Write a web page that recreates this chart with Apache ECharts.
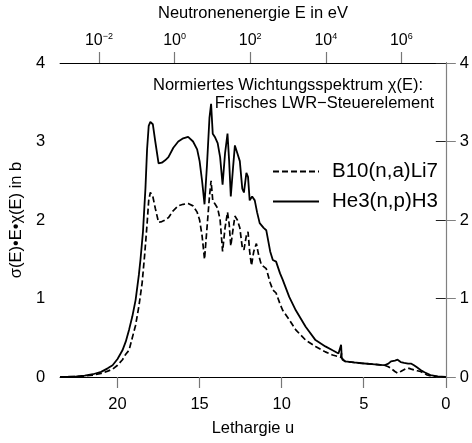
<!DOCTYPE html>
<html><head><meta charset="utf-8">
<script src="https://cdn.jsdelivr.net/npm/echarts@6/dist/echarts.min.js"></script>
<style>html,body{margin:0;padding:0;background:#fff}#c{width:472px;height:443px}</style>
</head><body><div id="c"></div>
<script>
// Lethargy grid and values, He3(n,p)H3 (solid)
const uHe3 = [23.5,23,22.5,22,21.5,21,20.6,20.3,20,19.7,19.5,19.3,19.1,18.9,18.7,18.6,18.45,18.3,18.2,18.1,18.0,17.85,17.7,17.5,17.3,17.1,16.9,16.6,16.3,16.0,15.7,15.4,15.15,15.0,14.85,14.7,14.55,14.4,14.3,14.2,14.05,13.9,13.75,13.6,13.45,13.3,13.2,13.1,12.95,12.85,12.7,12.55,12.4,12.3,12.15,12.05,11.95,11.8,11.64,11.5,11.34,11.1,10.94,10.7,10.54,10.34,10.1,9.94,9.54,9.14,8.54,7.94,7.34,6.9,6.54,6.42,6.38,6.34,6.14,5.6,5.14,4.5,4.0,3.74,3.5,3.34,3.1,2.94,2.75,2.54,2.3,2.1,1.94,1.74,1.54,1.3,0.94,0.5,0];
const he3 = [0,0.003,0.008,0.018,0.035,0.065,0.11,0.15,0.23,0.34,0.45,0.6,0.77,0.98,1.3,1.5,1.85,2.4,2.9,3.2,3.25,3.22,3.0,2.72,2.73,2.76,2.8,2.92,3.0,3.04,3.06,3.0,2.9,2.75,2.5,2.2,2.7,3.3,3.48,3.1,3.05,2.98,2.8,2.45,2.85,3.1,2.75,2.3,2.7,2.95,2.85,2.75,2.4,2.35,2.6,2.55,2.25,2.3,2.25,2.1,1.96,1.9,1.87,1.6,1.49,1.47,1.32,1.24,1.02,0.85,0.64,0.47,0.39,0.34,0.30,0.28,0.41,0.24,0.2,0.185,0.175,0.165,0.155,0.15,0.17,0.2,0.21,0.22,0.19,0.18,0.17,0.17,0.15,0.12,0.09,0.06,0.025,0.008,0];
// B10(n,a)Li7 (dashed)
const uB10 = [23.5,23,22.5,22,21.5,21,20.6,20.3,20,19.7,19.5,19.3,19.1,18.9,18.7,18.5,18.35,18.2,18.1,18.0,17.85,17.7,17.5,17.3,17.1,16.9,16.6,16.3,16.0,15.7,15.4,15.15,15.0,14.85,14.7,14.55,14.4,14.3,14.2,14.05,13.9,13.75,13.6,13.45,13.3,13.2,13.1,12.95,12.85,12.7,12.55,12.4,12.3,12.15,12.05,11.95,11.84,11.7,11.54,11.4,11.24,10.94,10.7,10.54,10.34,10.1,9.94,9.54,9.14,8.54,7.94,7.34,6.9,6.54,6.4,6.36,6.3,6.14,5.6,5.14,4.5,4.0,3.74,3.5,3.34,3.1,2.94,2.75,2.64,2.4,2.24,2.1,1.94,1.74,1.54,1.3,1.14,0.8,0.5,0];
const b10 = [0,0.002,0.005,0.012,0.025,0.045,0.075,0.1,0.15,0.22,0.29,0.34,0.5,0.66,0.9,1.2,1.55,1.95,2.25,2.35,2.3,2.15,1.97,1.98,2.0,2.03,2.12,2.18,2.2,2.21,2.18,2.1,2.0,1.8,1.5,1.9,2.3,2.5,2.25,2.2,2.15,2.0,1.6,1.9,2.1,1.95,1.67,1.9,2.05,2.0,1.9,1.65,1.62,1.8,1.85,1.6,1.42,1.6,1.70,1.55,1.43,1.38,1.2,1.11,1.07,0.93,0.85,0.73,0.60,0.47,0.39,0.32,0.28,0.26,0.25,0.3,0.22,0.2,0.185,0.175,0.165,0.155,0.15,0.13,0.11,0.07,0.05,0.07,0.09,0.11,0.11,0.1,0.09,0.08,0.07,0.045,0.025,0.01,0.004,0];

const seriesNames = ['B10(n,a)Li7', 'He3(n,p)H3'];
const lethargyTicks = [0, 5, 10, 15, 20];
const yTicks = [0, 1, 2, 3, 4];
const energyExponents = [-2, 0, 2, 4, 6];
const E0 = 1.5e7; // reference energy in eV, u = ln(E0/E)
const energyTickU = energyExponents.map(k => Math.log(E0) - k * Math.LN10);

const FONT = 'Liberation Sans, Arial, Helvetica, sans-serif';
const FS = 16.5;

const chart = echarts.init(document.getElementById('c'), null, {renderer: 'canvas'});

function toPairs(xs, ys) { return xs.map((x, i) => [x, ys[i]]); }

const option = {
  animation: false,
  backgroundColor: '#fff',
  textStyle: {fontFamily: FONT},
  grid: {left: 57, right: 23, top: 63, bottom: 66, containLabel: false},
  legend: {
    orient: 'vertical', left: 272, top: 161, padding: 0, itemWidth: 46, itemHeight: 14, itemGap: 9,
    data: seriesNames,
    itemStyle: {opacity: 0, borderWidth: 0},
    textStyle: {fontSize: 20.5, color: '#000', fontFamily: FONT, padding: [0, 0, 0, 8]},
    selectedMode: false
  },
  xAxis: [
    {
      type: 'value', position: 'bottom', min: 0, max: 23.5, inverse: true,
      name: 'Lethargie u', nameLocation: 'middle', nameGap: 43,
      nameTextStyle: {fontSize: FS, color: '#000', fontFamily: FONT},
      axisLine: {show: true, onZero: false, lineStyle: {color: '#000', width: 1}},
      axisTick: {show: true, inside: false, length: 11, customValues: lethargyTicks, lineStyle: {color: '#777', width: 1.2}},
      axisLabel: {customValues: lethargyTicks, margin: 19, fontSize: FS, color: '#000', fontFamily: FONT},
      splitLine: {show: false}
    },
    {
      type: 'value', position: 'top', min: 0, max: 23.5, inverse: true,
      name: 'Neutronenenergie E in eV', nameLocation: 'middle', nameGap: 41,
      nameTextStyle: {fontSize: FS, color: '#000', fontFamily: FONT},
      axisLine: {show: true, onZero: false, lineStyle: {color: '#000', width: 1}},
      axisTick: {show: true, inside: false, length: 11, customValues: energyTickU, lineStyle: {color: '#777', width: 1.2}},
      axisLabel: {
        customValues: energyTickU, margin: 13, color: '#000', fontFamily: FONT,
        formatter: function (v) {
          let best = 0;
          energyTickU.forEach((t, i) => { if (Math.abs(t - v) < Math.abs(energyTickU[best] - v)) best = i; });
          const k = energyExponents[best];
          return '{b|10}{s|' + (k < 0 ? '\u2212' + (-k) : k) + '}';
        },
        rich: {
          b: {fontSize: 16, lineHeight: 18, fontFamily: FONT, color: '#000'},
          s: {fontSize: 9, lineHeight: 9, verticalAlign: 'top', fontFamily: FONT, color: '#000'}
        }
      },
      splitLine: {show: false}
    }
  ],
  yAxis: [
    {
      type: 'value', position: 'left', min: 0, max: 4, interval: 1,
      name: 'σ(E)•E•χ(E) in b', nameLocation: 'middle', nameGap: 23, nameRotate: 90,
      nameTextStyle: {fontSize: FS, color: '#000', fontFamily: FONT},
      axisLine: {show: true, lineStyle: {color: '#000', width: 1}},
      axisTick: {show: true, inside: false, length: 10, lineStyle: {color: '#222', width: 1}},
      axisLabel: {margin: 15, fontSize: FS, color: '#000', fontFamily: FONT},
      splitLine: {show: false}
    },
    {
      type: 'value', position: 'right', min: 0, max: 4, interval: 1,
      axisLine: {show: true, lineStyle: {color: '#808080', width: 1.2}},
      axisTick: {show: true, inside: false, length: 10, lineStyle: {color: '#808080', width: 1}},
      axisLabel: {margin: 14, fontSize: FS, color: '#000', fontFamily: FONT},
      splitLine: {show: false}
    }
  ],
  graphic: [
    {type: 'text', x: 423, y: 85, style: {text: 'Normiertes Wichtungsspektrum χ(E):', fontSize: FS, fontFamily: FONT, fill: '#000', align: 'right', verticalAlign: 'middle'}, z: 10},
    {type: 'text', x: 434, y: 103, style: {text: 'Frisches LWR\u2212Steuerelement', fontSize: FS, fontFamily: FONT, fill: '#000', align: 'right', verticalAlign: 'middle'}, z: 10}
  ],
  series: [
    {
      name: seriesNames[0], type: 'line', xAxisIndex: 0, yAxisIndex: 0,
      data: toPairs(uB10, b10), symbol: 'none', showSymbol: false, smooth: false,
      lineStyle: {color: '#000', width: 1.7, type: [6, 3]}, itemStyle: {color: '#000'}, z: 3
    },
    {
      name: seriesNames[1], type: 'line', xAxisIndex: 0, yAxisIndex: 0,
      data: toPairs(uHe3, he3), symbol: 'none', showSymbol: false, smooth: false,
      lineStyle: {color: '#000', width: 1.8, type: 'solid'}, itemStyle: {color: '#000'}, z: 4
    }
  ]
};
chart.setOption(option);
</script>
</body></html>
